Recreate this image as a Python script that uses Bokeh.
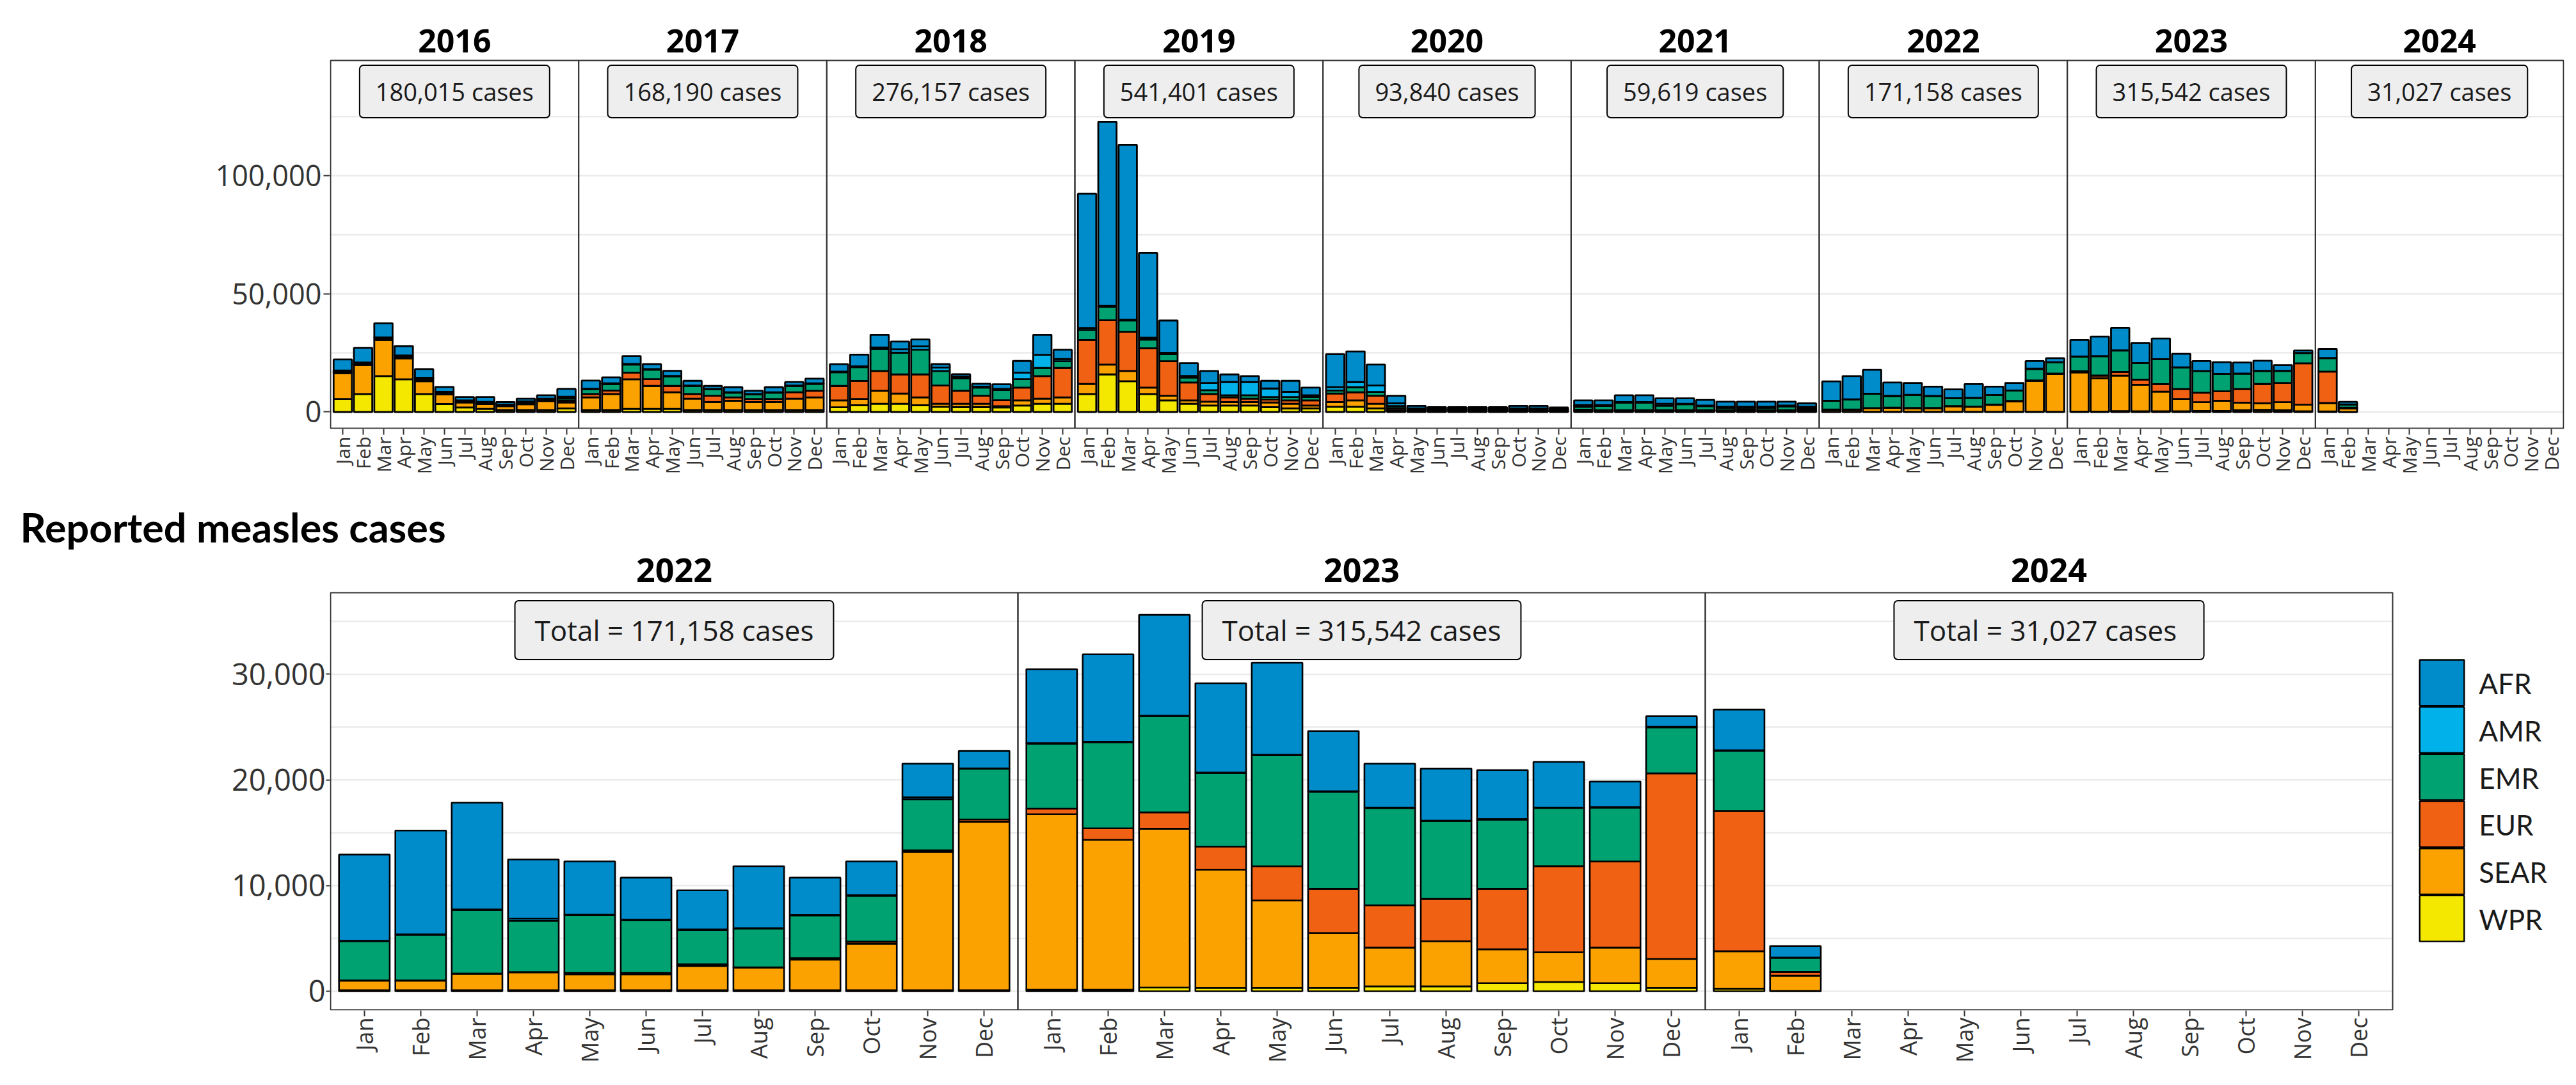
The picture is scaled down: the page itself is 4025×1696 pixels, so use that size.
import math
from bokeh.plotting import figure
from bokeh.models import ColumnDataSource, FixedTicker, NumeralTickFormatter, Label, Range1d
from bokeh.layouts import column
from bokeh.core.properties import value
from bokeh.embed import file_html
from bokeh.resources import INLINE

# ---------------- data ----------------
YEARS = [2016, 2017, 2018, 2019, 2020, 2021, 2022, 2023, 2024]
DETAIL_YEARS = [2022, 2023, 2024]
MONTHS = ["Jan", "Feb", "Mar", "Apr", "May", "Jun", "Jul", "Aug", "Sep", "Oct", "Nov", "Dec"]
REGIONS = ["AFR", "AMR", "EMR", "EUR", "SEAR", "WPR"]
COLORS = {"AFR": "#008BCB", "AMR": "#00B1EA", "EMR": "#00A272",
          "EUR": "#F16113", "SEAR": "#FBA201", "WPR": "#F4E800"}
TOTALS = [180015, 168190, 276157, 541401, 93840, 59619, 171158, 315542, 31027]

AFR = {
    2016: [4685, 6200, 5950, 3950, 3650, 2060, 1440, 2070, 1060, 1170, 1440, 3330],
    2017: [3430, 2500, 3300, 2090, 2160, 1990, 1260, 2160, 1350, 2160, 1440, 1980],
    2018: [3130, 4980, 5370, 3250, 2880, 1440, 1020, 1230, 1980, 4960, 8470, 3960],
    2019: [56760, 77900, 74060, 35860, 13610, 5410, 5045, 3240, 2520, 3250, 4680, 3250],
    2020: [13950, 12980, 8835, 3240, 1100, 400, 400, 450, 450, 1100, 1100, 600],
    2021: [1980, 1980, 2880, 2880, 2340, 2340, 2340, 2160, 2170, 2160, 1620, 1450],
    2022: [8150, 9830, 10100, 5600, 5040, 3980, 3700, 5850, 3530, 3200, 3180, 1650],
    2023: [7000, 8270, 9540, 8450, 8700, 5690, 4150, 4920, 4640, 4310, 2410, 1000],
    2024: [3850, 1095],
}
AMR = {
    2016: [300, 300, 200, 200, 300, 300, 300, 200, 200, 270, 290, 730],
    2017: [270, 300, 300, 230, 240, 200, 200, 200, 170, 190, 190, 200],
    2018: [300, 300, 600, 1430, 1450, 1440, 700, 400, 500, 2700, 5590, 900],
    2019: [800, 300, 200, 800, 600, 690, 3065, 5590, 5590, 3600, 2170, 720],
    2020: [1445, 2160, 2700, 1150, 400, 400, 400, 400, 400, 400, 400, 300],
    2021: [700, 380, 220, 220, 800, 200, 280, 440, 400, 440, 380, 400],
    2022: [40, 40, 50, 200, 50, 50, 50, 50, 50, 50, 200, 50],
    2023: [50, 50, 50, 50, 50, 50, 50, 50, 50, 50, 50, 50],
    2024: [50, 30],
}
EMR = {
    2016: [500, 400, 700, 800, 700, 500, 300, 400, 250, 500, 400, 900],
    2017: [1980, 2790, 3430, 4000, 4000, 3400, 2680, 1960, 1900, 2600, 2700, 2950],
    2018: [5760, 5830, 9340, 9200, 10450, 6130, 5300, 3420, 4330, 3600, 3420, 2890],
    2019: [4240, 5770, 4850, 3620, 3000, 2100, 1625, 880, 1440, 1080, 1440, 1440],
    2020: [1265, 2170, 1625, 900, 350, 350, 350, 350, 350, 350, 350, 300],
    2021: [1230, 1750, 3200, 3200, 1900, 2500, 1700, 1000, 800, 1000, 1600, 600],
    2022: [3720, 4320, 6020, 4850, 5450, 4970, 3250, 3670, 4020, 4340, 4800, 4800],
    2023: [6150, 8150, 9100, 6950, 10500, 9190, 9190, 7360, 6550, 5500, 5090, 4350],
    2024: [5690, 1335],
}
EUR = {
    2016: [300, 300, 200, 200, 500, 300, 300, 300, 200, 400, 300, 800],
    2017: [1440, 1440, 2790, 2880, 2700, 1980, 2700, 1440, 1350, 1350, 2700, 2790],
    2018: [6130, 7660, 8380, 8110, 9730, 7750, 5500, 3420, 2510, 5410, 9550, 12430],
    2019: [18650, 18740, 16580, 16660, 14600, 7570, 3240, 2000, 1440, 1260, 1440, 2160],
    2020: [3600, 3420, 3420, 900, 300, 350, 350, 300, 300, 300, 300, 250],
    2021: [400, 300, 270, 270, 270, 270, 270, 270, 400, 270, 270, 300],
    2022: [20, 20, 20, 30, 150, 150, 150, 30, 150, 200, 150, 200],
    2023: [530, 1090, 1545, 2180, 3230, 4180, 4000, 4000, 5720, 8150, 8150, 17560],
    2024: [13280, 350],
}
SEAR = {
    2016: [10900, 12350, 15300, 8900, 5400, 4050, 2070, 2080, 1630, 2430, 3780, 2520],
    2017: [5320, 6750, 12530, 9730, 7030, 4770, 3330, 3870, 3330, 3330, 4770, 5310],
    2018: [2900, 2610, 5500, 4320, 3330, 1270, 1370, 1370, 500, 2160, 2160, 2700],
    2019: [4240, 4150, 4320, 2710, 1980, 1440, 1620, 1440, 1440, 1980, 1980, 1260],
    2020: [2000, 2700, 1980, 400, 250, 300, 300, 300, 300, 250, 250, 250],
    2021: [300, 250, 250, 250, 250, 250, 250, 250, 300, 250, 250, 700],
    2022: [900, 900, 1550, 1690, 1500, 1500, 2300, 2130, 2900, 4400, 13100, 15950],
    2023: [16600, 14180, 15030, 11200, 8280, 5190, 3680, 4280, 3200, 2810, 3370, 2740],
    2024: [3540, 1445],
}
WPR = {
    2016: [5540, 7610, 15180, 13830, 7610, 3380, 1940, 1300, 850, 860, 860, 1490],
    2017: [850, 860, 1300, 1300, 1300, 860, 860, 860, 860, 860, 860, 860],
    2018: [2000, 2900, 3470, 3470, 2840, 2200, 2100, 2100, 1940, 2750, 3470, 3470],
    2019: [7610, 15900, 13020, 7610, 4910, 3470, 2750, 2750, 2750, 2030, 1490, 1490],
    2020: [2200, 2200, 1490, 300, 200, 250, 250, 250, 250, 200, 200, 200],
    2021: [300, 250, 250, 250, 250, 250, 250, 250, 300, 250, 250, 200],
    2022: [100, 100, 100, 100, 100, 100, 100, 100, 100, 100, 100, 100],
    2023: [150, 150, 350, 320, 320, 320, 460, 460, 770, 880, 770, 320],
    2024: [250, 30],
}
DATA = {"AFR": AFR, "AMR": AMR, "EMR": EMR, "EUR": EUR, "SEAR": SEAR, "WPR": WPR}
STACK = ["WPR", "SEAR", "EUR", "EMR", "AMR", "AFR"]   # bottom -> top

TOP_GRID = [0, 25000, 50000, 75000, 100000, 125000]
TOP_TICKS = [0, 50000, 100000]
BOT_GRID = [0, 5000, 10000, 15000, 20000, 25000, 30000, 35000]
BOT_TICKS = [0, 10000, 20000, 30000]

PANEL = 122  # x units per facet panel (10 per month)


def month_x(k, m):
    return k * PANEL + 10 * (m + 1) - 4


def build_source(years):
    xs = []
    cols = {r: [] for r in REGIONS}
    for k, y in enumerate(years):
        for m in range(len(AFR[y])):
            xs.append(month_x(k, m))
            for r in REGIONS:
                cols[r].append(DATA[r][y][m])
    return ColumnDataSource(dict(x=xs, **cols))


def style_axes(p, yticks, ytick_size, xtick_size, n_panels, ystand, xstand, ytick_out):
    ticks = [month_x(k, m) for k in range(n_panels) for m in range(12)]
    p.xaxis.ticker = FixedTicker(ticks=ticks)
    p.xaxis.major_label_overrides = {month_x(k, m): MONTHS[m] for k in range(n_panels) for m in range(12)}
    p.xaxis.major_label_orientation = math.pi / 2
    p.yaxis.ticker = FixedTicker(ticks=yticks)
    p.yaxis.formatter = NumeralTickFormatter(format="0,0")
    for ax, size, stand, tout in ((p.xaxis, xtick_size, xstand, 9), (p.yaxis, ytick_size, ystand, ytick_out)):
        ax.axis_line_color = None
        ax.minor_tick_line_color = None
        ax.major_tick_line_color = "#333333"
        ax.major_tick_line_width = 2
        ax.major_tick_out = tout
        ax.major_tick_in = 0
        ax.major_label_text_font = "Open Sans"
        ax.major_label_text_font_size = size
        ax.major_label_text_color = "#333333"
        ax.major_label_standoff = stand
    p.xgrid.visible = False
    p.ygrid.visible = False
    p.outline_line_color = None


# ---------------- top: all years ----------------
n_top = len(YEARS)
top = figure(width=4009, height=752, output_backend="svg", toolbar_location=None,
             x_range=Range1d(-0.315, n_top * PANEL + 0.315), y_range=Range1d(-7172, 170907),
             min_border_left=515, min_border_right=3, min_border_top=12, min_border_bottom=82)
style_axes(top, TOP_TICKS, "45px", "30px", n_top, 3, 3, 10)

top.segment(x0=[0] * len(TOP_GRID), x1=[n_top * PANEL] * len(TOP_GRID), y0=TOP_GRID, y1=TOP_GRID,
            line_color="#EBEBEB", line_width=2.5)
top.vbar_stack(STACK, x="x", width=9, source=build_source(YEARS),
               fill_color=[COLORS[r] for r in STACK], line_color="black", line_width=2.8)
top.quad(left=[k * PANEL for k in range(n_top)], right=[(k + 1) * PANEL for k in range(n_top)],
         bottom=[-6901] * n_top, top=[148714] * n_top,
         fill_color=None, line_color="#333333", line_width=2)
top.text(x=[k * PANEL + PANEL / 2 for k in range(n_top)], y=[157100] * n_top,
         text=[str(y) for y in YEARS], text_font=value("Open Sans"), text_font_style="bold",
         text_font_size="50px", text_align="center", text_baseline="middle", text_color="black")
for k, t in enumerate(TOTALS):
    top.add_layout(Label(x=k * PANEL + PANEL / 2, y=135590, text=f"{t:,} cases",
                         text_font="Open Sans", text_font_size="38px", text_color="#1a1a1a",
                         text_align="center", text_baseline="middle",
                         background_fill_color="#EEEEEE", border_line_color="black",
                         border_line_width=2, padding=(25, 15), border_radius=6))

# ---------------- bottom: recent years ----------------
n_bot = len(DETAIL_YEARS)
bot = figure(width=4009, height=928, output_backend="svg", toolbar_location=None,
             x_range=Range1d(-0.1128, 396.44), y_range=Range1d(-1816, 41586),
             min_border_left=489, min_border_right=3, min_border_top=110, min_border_bottom=101)
style_axes(bot, BOT_TICKS, "47px", "36px", n_bot, 1, 2, 6)

# chart title, placed in the title panel above the frame and shifted to the page's left edge
bot.title.text = "Reported measles cases"
bot.title.align = "left"
bot.title.offset = -484
bot.title.text_font = "Lato"
bot.title.text_font_style = "bold"
bot.title.text_font_size = "63px"
bot.title.text_color = "black"
bot.title.vertical_align = "bottom"
bot.title.standoff = 4

bot.segment(x0=[0] * len(BOT_GRID), x1=[n_bot * PANEL] * len(BOT_GRID), y0=BOT_GRID, y1=BOT_GRID,
            line_color="#EBEBEB", line_width=2.5)
bot.vbar_stack(STACK, x="x", width=9, source=build_source(DETAIL_YEARS),
               fill_color=[COLORS[r] for r in STACK], line_color="black", line_width=2.6)
bot.quad(left=[k * PANEL for k in range(n_bot)], right=[(k + 1) * PANEL for k in range(n_bot)],
         bottom=[-1755] * n_bot, top=[37712] * n_bot,
         fill_color=None, line_color="#333333", line_width=2)
bot.text(x=[k * PANEL + PANEL / 2 for k in range(n_bot)], y=[39830] * n_bot,
         text=[str(y) for y in DETAIL_YEARS], text_font=value("Open Sans"), text_font_style="bold",
         text_font_size="52px", text_align="center", text_baseline="middle", text_color="black")
for k, y in enumerate(DETAIL_YEARS):
    t = TOTALS[YEARS.index(y)]
    bot.add_layout(Label(x=k * PANEL + PANEL / 2, y=34170, text=f"Total = {t:>7,} cases",
                         text_font="Open Sans", text_font_size="44px", text_color="#1a1a1a",
                         text_align="center", text_baseline="middle",
                         background_fill_color="#EEEEEE", border_line_color="black",
                         border_line_width=2, padding=(31, 16), border_radius=6))

# legend (keys drawn in data space to the right of the panels)
key_step = 4461
key_top0 = 31360
bot.quad(left=[370.8] * 6, right=[378.7] * 6,
         top=[key_top0 - i * key_step for i in range(6)],
         bottom=[key_top0 - i * key_step - key_step + 120 for i in range(6)],
         fill_color=[COLORS[r] for r in REGIONS], line_color="black", line_width=2.4)
bot.text(x=[381.3] * 6, y=[key_top0 - i * key_step - key_step / 2 for i in range(6)], text=REGIONS,
         text_font=value("Lato"), text_font_size="44px", text_align="left", text_baseline="middle",
         text_color="#1a1a1a")

layout = column(top, bot)
open("out.html", "w").write(file_html(layout, INLINE))
